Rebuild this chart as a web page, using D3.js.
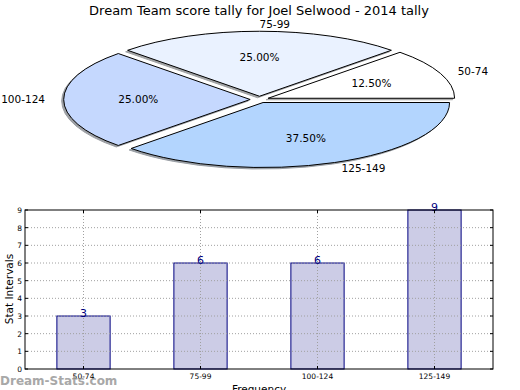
<!DOCTYPE html>
<html><head><meta charset="utf-8">
<script src="https://cdn.jsdelivr.net/npm/d3@7"></script>
<style>body{margin:0;background:#fff}svg{display:block;font-family:"DejaVu Sans",sans-serif}</style>
</head><body><svg id="c" width="520" height="390"></svg>
<script>
const title = "Dream Team score tally for Joel Selwood - 2014 tally";
const categories = ["50-74", "75-99", "100-124", "125-149"];
const counts = [3, 6, 6, 9];
const pieColors = ["#ffffff", "#eaf2ff", "#c5d8fe", "#b3d5fe"];
const yTicks = [0,1,2,3,4,5,6,7,8,9];
const explode = [0.05, 0.05, 0.05, 0.05];

const svg = d3.select("#c");
svg.append("text").attr("x", 259).attr("y", 15).attr("text-anchor", "middle")
  .attr("font-size", 13).text(title);

// ---- Pie ----
const cx = 259.5, cy = 99.5, rx = 186.5, ry = 65;
const total = d3.sum(counts);
const pie = d3.pie().sort(null).value(d => d).startAngle(Math.PI/2).endAngle(Math.PI/2 - 2*Math.PI);
const arcs = pie(counts);
const arc = d3.arc().innerRadius(0).outerRadius(rx);
const pg = svg.append("g").attr("transform", `translate(${cx},${cy}) scale(1,${ry/rx})`);
function offs(d, i, k) {
  const a = (d.startAngle + d.endAngle) / 2;
  return [k * rx * Math.sin(a), -k * rx * Math.cos(a)];
}
// shadows
arcs.forEach((d, i) => {
  const [ox, oy] = offs(d, i, explode[i]);
  const c = d3.rgb(pieColors[i]);
  const sc = d3.rgb(c.r*0.3, c.g*0.3, c.b*0.3);
  pg.append("path").attr("d", arc(d))
    .attr("transform", `translate(${ox - 2},${oy + 1.5*rx/ry})`)
    .attr("fill", sc).attr("stroke", sc).attr("opacity", 0.5)
    .attr("vector-effect", "non-scaling-stroke");
});
arcs.forEach((d, i) => {
  const [ox, oy] = offs(d, i, explode[i]);
  pg.append("path").attr("d", arc(d))
    .attr("transform", `translate(${ox},${oy})`)
    .attr("fill", pieColors[i]).attr("stroke", "#000").attr("stroke-width", 1)
    .attr("vector-effect", "non-scaling-stroke");
});
arcs.forEach((d, i) => {
  const a = (d.startAngle + d.endAngle) / 2;
  const sx = Math.sin(a), sy = -Math.cos(a);
  const kl = 1.1 + explode[i], kp = 0.6 + explode[i];
  svg.append("text").attr("x", cx + kl*rx*sx).attr("y", cy + kl*ry*sy)
    .attr("dy", "0.35em").attr("font-size", 10.5)
    .attr("text-anchor", sx > -1e-9 ? "start" : "end").text(categories[i]);
  svg.append("text").attr("x", cx + kp*rx*sx).attr("y", cy + kp*ry*sy)
    .attr("dy", "0.35em").attr("font-size", 10.5).attr("text-anchor", "middle")
    .text((d.value/total*100).toFixed(2) + "%");
});

// ---- Bar chart ----
const L = 25, R = 493, T = 210, B = 369;
const x = d3.scaleBand().domain(categories).range([L, R]).paddingInner(0).paddingOuter(0);
const y = d3.scaleLinear().domain([0, 9]).range([B, T]);
const bw = x.bandwidth() * 0.455;
const g = svg.append("g");
// bars
g.selectAll(".bar").data(counts).join("rect")
  .attr("x", (d, i) => x(categories[i]) + x.bandwidth()/2 - bw/2)
  .attr("y", d => y(d)).attr("width", bw).attr("height", d => B - y(d))
  .attr("fill", "#ccccE6").attr("stroke", "#000080").attr("stroke-width", 1);
// grid (drawn above bars, as in the reference)
g.selectAll(".gx").data(categories).join("line")
  .attr("x1", d => x(d) + x.bandwidth()/2).attr("x2", d => x(d) + x.bandwidth()/2)
  .attr("y1", T).attr("y2", B)
  .attr("stroke", "#a0a0a0").attr("stroke-width", 1).attr("stroke-dasharray", "1,2");
g.selectAll(".gy").data(yTicks.slice(1, -1)).join("line")
  .attr("x1", L).attr("x2", R).attr("y1", d => y(d)).attr("y2", d => y(d))
  .attr("stroke", "#a0a0a0").attr("stroke-width", 1).attr("stroke-dasharray", "1,2");
// value labels
g.selectAll(".vl").data(counts).join("text")
  .attr("x", (d, i) => x(categories[i]) + x.bandwidth()/2).attr("y", d => y(d) + 1)
  .attr("text-anchor", "middle").attr("font-size", 11).attr("fill", "#000080").text(d => d);
// frame
g.append("rect").attr("x", L).attr("y", T).attr("width", R - L).attr("height", B - T)
  .attr("fill", "none").attr("stroke", "#000").attr("stroke-width", 1);
// axes
const ya = d3.axisLeft(y).tickValues(yTicks).tickSize(0).tickPadding(3);
const yg = g.append("g").attr("transform", `translate(${L},0)`).call(ya);
yg.select(".domain").remove();
yg.selectAll("text").attr("font-size", 7.5).attr("font-family", "DejaVu Sans");
g.selectAll(".tl").data(yTicks).join("line").attr("x1", L).attr("x2", L+3)
  .attr("y1", d => y(d)).attr("y2", d => y(d)).attr("stroke", "#000");
g.selectAll(".tr").data(yTicks).join("line").attr("x1", R-3).attr("x2", R)
  .attr("y1", d => y(d)).attr("y2", d => y(d)).attr("stroke", "#000");
const xa = d3.axisBottom(x).tickSize(0).tickPadding(5);
const xg = g.append("g").attr("transform", `translate(0,${B})`).call(xa);
xg.select(".domain").remove();
xg.selectAll("text").attr("font-size", 7.5).attr("font-family", "DejaVu Sans");
g.selectAll(".tb").data(categories).join("line")
  .attr("x1", d => x(d) + x.bandwidth()/2).attr("x2", d => x(d) + x.bandwidth()/2)
  .attr("y1", B - 3).attr("y2", B).attr("stroke", "#000");
g.selectAll(".tt").data(categories).join("line")
  .attr("x1", d => x(d) + x.bandwidth()/2).attr("x2", d => x(d) + x.bandwidth()/2)
  .attr("y1", T).attr("y2", T + 3).attr("stroke", "#000");
svg.append("text").attr("x", 259).attr("y", 393).attr("text-anchor", "middle")
  .attr("font-size", 10.5).text("Frequency");
svg.append("text").attr("transform", "translate(13,289) rotate(-90)").attr("text-anchor", "middle")
  .attr("font-size", 10.5).text("Stat Intervals");
svg.append("text").attr("x", 0).attr("y", 385).attr("font-size", 12).attr("font-weight", "bold")
  .attr("fill", "#999").attr("opacity", 0.85).text("Dream-Stats.com");
</script></body></html>
